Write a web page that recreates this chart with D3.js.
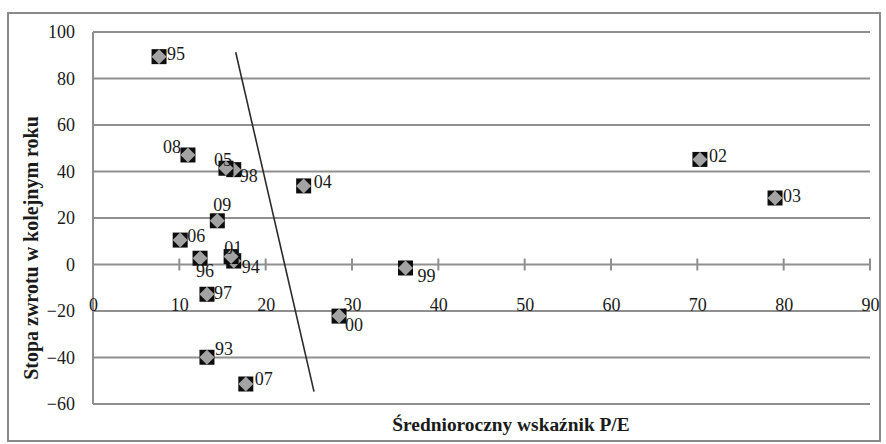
<!DOCTYPE html>
<html>
<head>
<meta charset="utf-8">
<script src="https://cdn.jsdelivr.net/npm/d3@7"></script>
<style>
  body { margin: 0; background: #fff; }
  svg text { font-family: "Liberation Serif", Tinos, Times, "DejaVu Serif", serif; fill: #1a1a1a; }
</style>
</head>
<body>
<div id="chart"></div>
<script>
// years (labels), average P/E and next-year return (%)
const years   = ['93', '94', '95', '96', '97', '98', '99', '00', '01', '02', '03', '04', '05', '06', '07', '08', '09']
const peRatio = [13.2, 16.3, 7.65, 12.4, 13.2, 16.3, 36.2, 28.5, 16.0, 70.3, 79.0, 24.4, 15.4, 10.1, 17.7, 11.0, 14.4]
const returns = [-39.9, 1.5, 89.4, 2.7, -12.8, 40.8, -1.5, -22.2, 3.4, 45.2, 28.6, 33.8, 41.4, 10.5, -51.4, 47.1, 18.8]

// hand drawn line (two end points, data units)
const lineX = [16.53, 25.6]
const lineY = [91.3, -54.7]

const xTicks = [0, 10, 20, 30, 40, 50, 60, 70, 80, 90]
const yTicks = [-60, -40, -20, 0, 20, 40, 60, 80, 100]

const xTitle = 'Średnioroczny wskaźnik P/E'
const yTitle = 'Stopa zwrotu w kolejnym roku'

// label placement, pixels from marker centre
const labelOffset = {
  '93': [8, -2, 'start'], '94': [8, 12, 'start'], '95': [8, 3, 'start'],
  '96': [5, 19, 'middle'], '97': [7, 5, 'start'], '98': [6, 12, 'start'],
  '99': [12, 14, 'start'], '00': [6, 15, 'start'], '01': [2, -3, 'middle'],
  '02': [9, 3, 'start'], '03': [8, 4, 'start'], '04': [10, 2, 'start'],
  '05': [-3, -2, 'middle'], '06': [7, 2, 'start'], '07': [9, 1, 'start'],
  '08': [-7, -2, 'end'], '09': [5, -10, 'middle']
}

const W = 886, H = 444
const svg = d3.select('#chart').append('svg')
  .attr('width', W)
  .attr('height', H)

svg.append('rect')
  .attr('x', 8).attr('y', 13)
  .attr('width', 872).attr('height', 428)
  .attr('fill', 'none')
  .attr('stroke', '#8a8a8a')
  .attr('stroke-width', 2)

const x = d3.scaleLinear().domain([0, 90]).range([93, 870])
const y = d3.scaleLinear().domain([-60, 100]).range([404, 32])

const gridColor = '#8f8f8f'

// horizontal gridlines
svg.append('g')
  .selectAll('line')
  .data(yTicks)
  .join('line')
    .attr('x1', x(0))
    .attr('x2', x(90))
    .attr('y1', d => y(d))
    .attr('y2', d => y(d))
    .attr('stroke', gridColor)
    .attr('stroke-width', 2)

// left axis line
svg.append('line')
  .attr('x1', x(0)).attr('x2', x(0))
  .attr('y1', y(100)).attr('y2', y(-60))
  .attr('stroke', gridColor)
  .attr('stroke-width', 2)

// y tick labels
const yAxis = svg.append('g')
  .attr('transform', `translate(${x(0)},0)`)
  .call(d3.axisLeft(y).tickValues(yTicks).tickSize(0).tickPadding(18))
yAxis.attr('font-family', null)
yAxis.select('.domain').remove()
yAxis.selectAll('text')
  .attr('font-size', 18)

// x axis through zero, with crossing ticks
svg.append('g')
  .selectAll('line')
  .data(xTicks.slice(1))
  .join('line')
    .attr('x1', d => x(d))
    .attr('x2', d => x(d))
    .attr('y1', y(0) - 6)
    .attr('y2', y(0) + 6)
    .attr('stroke', gridColor)
    .attr('stroke-width', 2)

const xAxis = svg.append('g')
  .attr('transform', `translate(0,${y(0)})`)
  .call(d3.axisBottom(x).tickValues(xTicks).tickSize(0))
xAxis.attr('font-family', null)
xAxis.select('.domain').remove()
xAxis.selectAll('text')
  .attr('y', y(-20) - y(0))
  .attr('dy', 0)
  .attr('font-size', 18)

// hand drawn line
svg.append('line')
  .attr('x1', x(lineX[0])).attr('y1', y(lineY[0]))
  .attr('x2', x(lineX[1])).attr('y2', y(lineY[1]))
  .attr('stroke', '#2b2b2b')
  .attr('stroke-width', 1.6)

// points
const points = years.map((yr, i) => ({ yr, pe: peRatio[i], r: returns[i] }))
const s = 7.5

const marks = svg.append('g')
  .selectAll('g')
  .data(points)
  .join('g')
    .attr('transform', d => `translate(${x(d.pe)},${y(d.r)})`)

marks.append('rect')
  .attr('x', -s).attr('y', -s)
  .attr('width', 2 * s).attr('height', 2 * s)
  .attr('fill', '#0d0d0d')

marks.append('path')
  .attr('d', `M0,${-s}L${s},0L0,${s}L${-s},0Z`)
  .attr('fill', '#a3a3a3')

svg.append('g')
  .selectAll('text')
  .data(points)
  .join('text')
    .attr('x', d => x(d.pe) + labelOffset[d.yr][0])
    .attr('y', d => y(d.r) + labelOffset[d.yr][1])
    .attr('text-anchor', d => labelOffset[d.yr][2])
    .attr('font-size', 18)
    .text(d => d.yr)

// axis titles
svg.append('text')
  .attr('x', 511)
  .attr('y', 431)
  .attr('text-anchor', 'middle')
  .attr('font-size', 19.4)
  .attr('font-weight', 'bold')
  .text(xTitle)

svg.append('text')
  .attr('transform', 'translate(38,248) rotate(-90)')
  .attr('text-anchor', 'middle')
  .attr('font-size', 20)
  .attr('font-weight', 'bold')
  .text(yTitle)
</script>
</body>
</html>
